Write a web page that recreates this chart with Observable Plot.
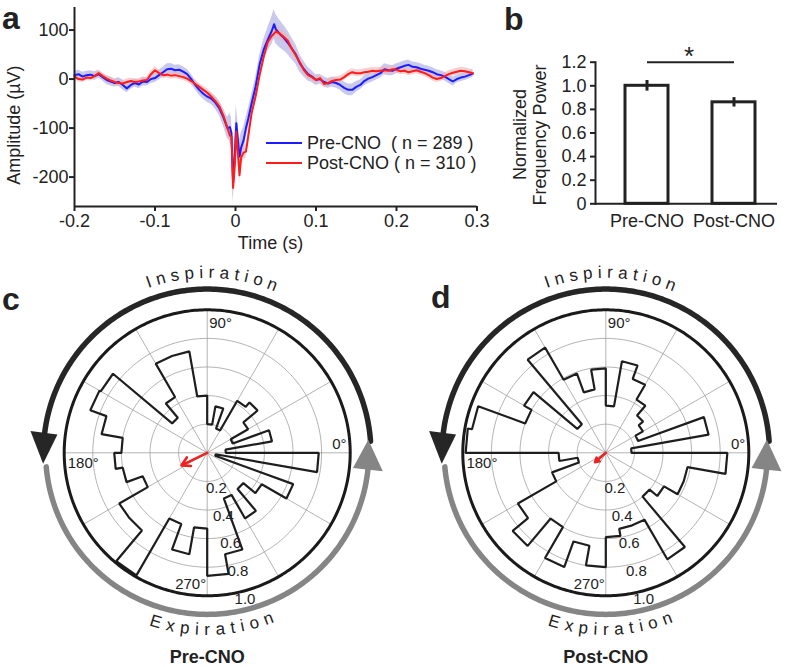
<!DOCTYPE html>
<html><head><meta charset="utf-8">
<script src="https://cdn.jsdelivr.net/npm/d3@7"></script>
<script src="https://cdn.jsdelivr.net/npm/@observablehq/plot@0.6"></script>
<style>
html,body{margin:0;padding:0;background:#fff;}
#root{position:relative;width:787px;height:667px;overflow:hidden;font-family:"Liberation Sans",Arial,sans-serif;color:#222;}
.letter{position:absolute;font-weight:bold;font-size:32px;line-height:28px;color:#222;}
.legend{position:absolute;font-size:18px;line-height:20px;color:#222;}
.legend .row{display:flex;align-items:center;height:20px;white-space:pre;}
.legend .sw{display:inline-block;width:36px;height:2.5px;margin-right:5px;}
</style></head><body><div id="root"></div><script>
// ---------------- Panel a data ----------------
const timeSec = [
-0.200,-0.195,-0.190,-0.185,-0.180,-0.175,-0.170,-0.165,-0.160,-0.155,
-0.150,-0.145,-0.140,-0.135,-0.130,-0.125,-0.120,-0.115,-0.110,-0.105,
-0.100,-0.095,-0.090,-0.085,-0.080,-0.075,-0.070,-0.065,-0.060,-0.055,
-0.050,-0.045,-0.040,-0.035,-0.030,-0.025,-0.020,-0.015,-0.010,-0.007,
-0.005,-0.003,-0.001,0.001,0.003,0.005,0.007,0.010,0.013,0.016,
0.020,0.025,0.030,0.035,0.040,0.045,0.048,0.050,0.055,0.060,
0.065,0.070,0.075,0.080,0.085,0.090,0.095,0.100,0.105,0.110,
0.115,0.120,0.125,0.130,0.135,0.140,0.145,0.150,0.155,0.160,
0.165,0.170,0.175,0.180,0.185,0.190,0.195,0.200,0.205,0.210,
0.215,0.220,0.225,0.230,0.235,0.240,0.245,0.250,0.255,0.260,
0.265,0.270,0.275,0.280,0.285,0.290,0.295];
const preCNO = [
8,10,5,8,9,6,10,4,-2,-5,
-8,-6,-12,-19,-12,-8,-11,-5,-6,0,
2,8,14,20,21,18,19,15,10,0,
-12,-22,-30,-36,-40,-48,-60,-78,-100,-98,
-110,-212,-160,-90,-125,-158,-140,-125,-100,-80,
-50,-15,30,60,80,98,112,102,92,84,
74,62,50,32,20,10,5,-2,0,-6,
-9,-6,-8,-12,-18,-22,-22,-16,-12,-4,
1,4,8,12,20,18,17,21,24,27,
29,25,24,21,19,17,14,10,8,5,
0,-5,0,3,5,8,11];
const postCNO = [
5,0,-1,3,2,6,12,6,1,-3,
-6,-8,-9,-6,-4,-6,-5,-3,-2,10,
18,12,8,9,7,8,6,4,1,-4,
-10,-16,-22,-28,-36,-45,-56,-75,-100,-115,
-118,-222,-180,-107,-150,-196,-160,-150,-148,-115,
-70,-35,8,45,75,88,93,97,93,86,
78,62,48,34,18,8,4,-2,2,-10,
-8,-4,-2,-1,4,10,14,12,12,14,
15,17,16,17,18,17,20,19,16,17,
14,16,18,15,12,8,3,0,2,6,
10,13,15,17,16,14,12];
const preSEM = [
8,8,9,8,8,9,8,8,9,9,
8,9,10,9,9,8,9,9,8,9,
9,10,10,11,11,10,10,10,10,10,
10,11,11,12,12,13,15,18,22,28,
32,40,40,38,36,34,30,26,22,20,
18,18,18,20,24,28,30,30,28,26,
24,22,20,18,16,14,12,11,10,10,
10,10,10,11,12,12,12,11,10,10,
10,10,10,10,11,11,10,10,10,10,
10,10,10,10,9,9,9,9,9,9,
9,9,8,8,8,8,8];
const postSEM = [
6,6,6,6,6,6,6,6,6,6,
6,6,6,6,6,6,6,6,6,7,
7,7,7,7,7,7,7,7,7,7,
7,7,8,8,8,8,9,10,12,14,
16,20,20,18,18,18,16,15,14,12,
10,10,10,10,11,12,12,12,12,11,
10,9,8,8,7,7,7,7,7,7,
7,7,7,7,7,7,7,7,7,7,
7,7,7,7,7,7,7,7,7,7,
7,7,7,7,7,7,7,7,7,7,
7,7,7,7,7,7,7];
const aXTicks = [-0.2,-0.1,0,0.1,0.2,0.3];
const aYTicks = [100,0,-100,-200];
const legendLabels = ["Pre-CNO  ( n = 289 )","Post-CNO ( n = 310 )"];

// ---------------- Panel b data ----------------
const groups = ["Pre-CNO","Post-CNO"];
const powerMean = [1.0, 0.86];
const powerErr = [0.045, 0.04];
const bYTicks = [0,0.2,0.4,0.6,0.8,1.0,1.2];

// ---------------- Panels c/d data (36 bins of 10°) ----------------
const binEdgesDeg = d3.range(0, 361, 10);
const preBins = [0.13,0.46,0.19,0.33,0.46,0.42,0.18,0.33,0.20,
                 0.40,0.72,0.72,0.45,0.32,0.86,0.87,0.75,0.60,
                 0.65,0.60,0.48,0.71,0.71,0.99,0.53,0.72,0.53,
                 0.86,0.72,0.34,0.53,0.33,0.44,0.64,0.06,0.78];
const postBins = [0.18,0.73,0.24,0.30,0.34,0.43,0.55,0.65,0.33,
                  0.59,0.45,0.59,0.85,0.26,0.66,0.60,0.95,0.98,
                  0.33,0.20,0.40,0.71,0.85,0.60,0.85,0.66,0.80,
                  0.59,0.54,0.54,0.86,0.40,0.47,0.58,0.58,0.85];
const preMean = {deg: 206, len: 0.20};
const postMean = {deg: 221, len: 0.10};
const ringValues = [0.2,0.4,0.6,0.8];
const ringLabels = ["0.2","0.4","0.6","0.8","1.0"];
const spokeDeg = d3.range(0, 360, 30);
const angleLabels = ["0°","90°","180°","270°"];

// ---------------- helpers ----------------
const root = document.getElementById("root");
const FONT = '"Liberation Sans", Arial, Helvetica, sans-serif';
const INK = "#222";
function place(el, left, top) {
  const d = document.createElement("div");
  d.style.cssText = `position:absolute;left:${left}px;top:${top}px;`;
  d.appendChild(el); root.appendChild(d);
}
const baseStyle = {fontFamily: FONT, fontSize: "18px", color: INK, background: "none", overflow: "visible"};

// ---------------- Panel a ----------------
const rowsA = timeSec.map((t,i) => ({t, pre: preCNO[i], post: postCNO[i], preSE: preSEM[i], postSE: postSEM[i]}));
const plotA = Plot.plot({
  width: 490, height: 262,
  marginLeft: 74, marginRight: 13.5, marginTop: 7, marginBottom: 56,
  x: {domain: [-0.2, 0.3]},
  y: {domain: [-260, 146]},
  style: baseStyle,
  marks: [
    Plot.areaY(rowsA, {x: "t", y1: d => d.pre - d.preSE, y2: d => d.pre + d.preSE, fill: "#bcbce8", fillOpacity: 0.8}),
    Plot.areaY(rowsA, {x: "t", y1: d => d.post - d.postSE, y2: d => d.post + d.postSE, fill: "#f0b4b4", fillOpacity: 0.6}),
    Plot.lineY(rowsA, {x: "t", y: "pre", stroke: "#1c1cff", strokeWidth: 2}),
    Plot.lineY(rowsA, {x: "t", y: "post", stroke: "#ff1c1c", strokeWidth: 2}),
    Plot.ruleX([-0.2], {stroke: INK, strokeWidth: 2}),
    Plot.ruleY([-260], {stroke: INK, strokeWidth: 2}),
    Plot.axisX({ticks: aXTicks, tickFormat: d => d === 0 ? "0" : d.toFixed(1), tickSize: 5, tickPadding: 3, label: null, strokeWidth: 2}),
    Plot.axisY({ticks: aYTicks, tickFormat: d => String(d), tickSize: 5, tickPadding: 1, label: null, strokeWidth: 2}),
    Plot.text(["Amplitude (µV)"], {x: () => -0.2, y: () => -94, dx: -60.5, rotate: -90, textAnchor: "middle", fontSize: 18}),
    Plot.text(["Time (s)"], {x: () => 0.0435, y: () => -260, dy: 37, textAnchor: "middle", fontSize: 18})
  ]
});
place(plotA, 0, 0);

// legend for panel a
const leg = document.createElement("div");
leg.className = "legend";
leg.style.left = "266px"; leg.style.top = "133px";
[["#1c1cff", legendLabels[0]], ["#ff1c1c", legendLabels[1]]].forEach(([c, s]) => {
  const r = document.createElement("div"); r.className = "row";
  const sw = document.createElement("span"); sw.className = "sw"; sw.style.background = c;
  const tx = document.createElement("span"); tx.textContent = s;
  r.appendChild(sw); r.appendChild(tx); leg.appendChild(r);
});
root.appendChild(leg);

// ---------------- Panel b ----------------
const rowsB = groups.map((g,i) => ({g, v: powerMean[i], e: powerErr[i]}));
const plotB = Plot.plot({
  width: 307, height: 240,
  marginLeft: 115, marginRight: 10, marginTop: 61.7, marginBottom: 36.7,
  x: {domain: groups, paddingInner: 0.51, paddingOuter: 0.29, align: 0.58},
  y: {domain: [0, 1.2]},
  style: baseStyle,
  marks: [
    Plot.barY(rowsB, {x: "g", y: "v", fill: "white", stroke: INK, strokeWidth: 3}),
    Plot.ruleX(rowsB, {x: "g", y1: d => d.v - d.e, y2: d => d.v + d.e, stroke: INK, strokeWidth: 3}),
    Plot.ruleY([0], {stroke: INK, strokeWidth: 2}),
    Plot.frame({anchor: "left", stroke: INK, strokeWidth: 2}),
    Plot.axisY({ticks: bYTicks, tickFormat: d => d === 0 ? "0" : d.toFixed(1), tickSize: 5, tickPadding: 4, label: null, strokeWidth: 2}),
    Plot.axisX({tickSize: 0, tickPadding: 10, label: null}),
    Plot.link([groups], {x1: d => d[0], x2: d => d[1], y1: () => 1.2, y2: () => 1.2, stroke: INK, strokeWidth: 2}),
    Plot.text(["*"], {x: () => groups[0], y: () => 1.25, dx: 42, fontSize: 26}),
    Plot.text(["Normalized"], {x: () => groups[0], y: () => 0.6, dx: -127, dy: 1.5, rotate: -90, textAnchor: "middle", fontSize: 18}),
    Plot.text(["Frequency Power"], {x: () => groups[0], y: () => 0.6, dx: -107, dy: 2, rotate: -90, textAnchor: "middle", fontSize: 18})
  ]
});
place(plotB, 480, 0);

// ---------------- Panels c / d ----------------
const K = 143; // px per unit radius
function P(deg, r) { const t = deg * Math.PI / 180; return {x: r * Math.cos(t), y: r * Math.sin(t)}; }
const ctx = document.createElement("canvas").getContext("2d");
function curved(text, centerDeg, rUnits, spacing, top, fontPx) {
  ctx.font = `${fontPx}px "Liberation Sans", Arial`;
  const chars = [...text];
  const w = chars.map(c => ctx.measureText(c).width);
  const total = d3.sum(w) + spacing * (chars.length - 1);
  const rPx = rUnits * K;
  let s = -total / 2;
  return chars.map((ch, i) => {
    const mid = s + w[i] / 2; s += w[i] + spacing;
    const dA = mid / rPx * 180 / Math.PI;
    const a = top ? centerDeg - dA : centerDeg + dA;
    const p = P(a, rUnits);
    return {ch, x: p.x, y: p.y, rot: top ? 90 - a : 270 - a};
  });
}

function polarPanel(bins, mean, title, W, cxPx) {
  const H = 412, cyPx = 197.3;
  const stairs = [];
  bins.forEach((r, i) => { stairs.push(P(binEdgesDeg[i], r)); stairs.push(P(binEdgesDeg[i + 1], r)); });
  const rings = [];
  ringValues.forEach(r => d3.range(0, 361, 2).forEach(a => rings.push({...P(a, r), r})));
  const outer = d3.range(0, 361, 1).map(a => P(a, 1));
  const blackArc = d3.range(4, 174, 1).map(a => P(a, 1.145));
  const greyArc = d3.range(185, 355, 1).map(a => P(a, 1.13));
  const blackTri = [P(183.8, 1.15), P(173, 1.15 - 0.095), P(173, 1.15 + 0.095)];
  const greyTri = [P(4.6, 1.13), P(354, 1.13 - 0.105), P(354, 1.13 + 0.105)];
  const spokes = spokeDeg.map(a => P(a, 1));
  const tip = P(mean.deg, mean.len);
  const rl = ringLabels.map((s, i) => ({s, ...P(-75.5, (i + 1) * 0.2 + 0.055)}));
  const insp = curved("Inspiration", 88.5, 1.262, 5.5, true, 17);
  const expi = curved("Expiration", 271.5, 1.235, 5.5, false, 17);
  return Plot.plot({
    width: W, height: H, margin: 0, axis: null,
    x: {domain: [-cxPx / K, (W - cxPx) / K]},
    y: {domain: [-(H - cyPx) / K, cyPx / K]},
    style: baseStyle,
    marks: [
      Plot.line(rings, {x: "x", y: "y", z: "r", stroke: "#a0a0a0", strokeWidth: 0.8}),
      Plot.link(spokes, {x1: () => 0, y1: () => 0, x2: "x", y2: "y", stroke: "#a0a0a0", strokeWidth: 0.8}),
      Plot.line(stairs, {x: "x", y: "y", curve: "linear-closed", stroke: "#1e1e1e", strokeWidth: 2.2, strokeLinejoin: "miter"}),
      Plot.line(outer, {x: "x", y: "y", stroke: "#1a1a1a", strokeWidth: 3}),
      Plot.line(blackArc, {x: "x", y: "y", stroke: "#262626", strokeWidth: 5.5}),
      Plot.line(greyArc, {x: "x", y: "y", stroke: "#858585", strokeWidth: 5.5}),
      Plot.line(blackTri, {x: "x", y: "y", curve: "linear-closed", fill: "#262626", stroke: "none"}),
      Plot.line(greyTri, {x: "x", y: "y", curve: "linear-closed", fill: "#858585", stroke: "none"}),
      Plot.arrow([tip], {x1: () => 0, y1: () => 0, x2: "x", y2: "y", stroke: "#ee2222", strokeWidth: 2.6, headLength: 8}),
      Plot.text([angleLabels[0]], {x: () => 0.975, y: () => 0, textAnchor: "end", dy: -9, fontSize: 15}),
      Plot.text([angleLabels[1]], {x: () => 0, y: () => 0.905, textAnchor: "start", dx: 2, fontSize: 15}),
      Plot.text([angleLabels[2]], {x: () => -0.975, y: () => 0, textAnchor: "start", dy: 10, fontSize: 15}),
      Plot.text([angleLabels[3]], {x: () => 0, y: () => -0.918, textAnchor: "end", dx: -1, fontSize: 15}),
      Plot.text(rl, {x: "x", y: "y", text: "s", fontSize: 15}),
      Plot.text(insp, {x: "x", y: "y", text: "ch", rotate: "rot", fontSize: 17}),
      Plot.text(expi, {x: "x", y: "y", text: "ch", rotate: "rot", fontSize: 17}),
      Plot.text([title], {x: () => 0, y: () => -1.431, fontSize: 18, fontWeight: "bold"})
    ]
  });
}
place(polarPanel(preBins, preMean, "Pre-CNO", 400, 206.7), 0, 255);
place(polarPanel(postBins, postMean, "Post-CNO", 387, 205.3), 400, 255);

// panel letters
[["a", 2, 3.9], ["b", 504, 4.9], ["c", 2, 284.9], ["d", 431, 282.9]].forEach(([s, l, t]) => {
  const e = document.createElement("div"); e.className = "letter";
  e.style.left = l + "px"; e.style.top = t + "px"; e.textContent = s;
  root.appendChild(e);
});
</script></body></html>
